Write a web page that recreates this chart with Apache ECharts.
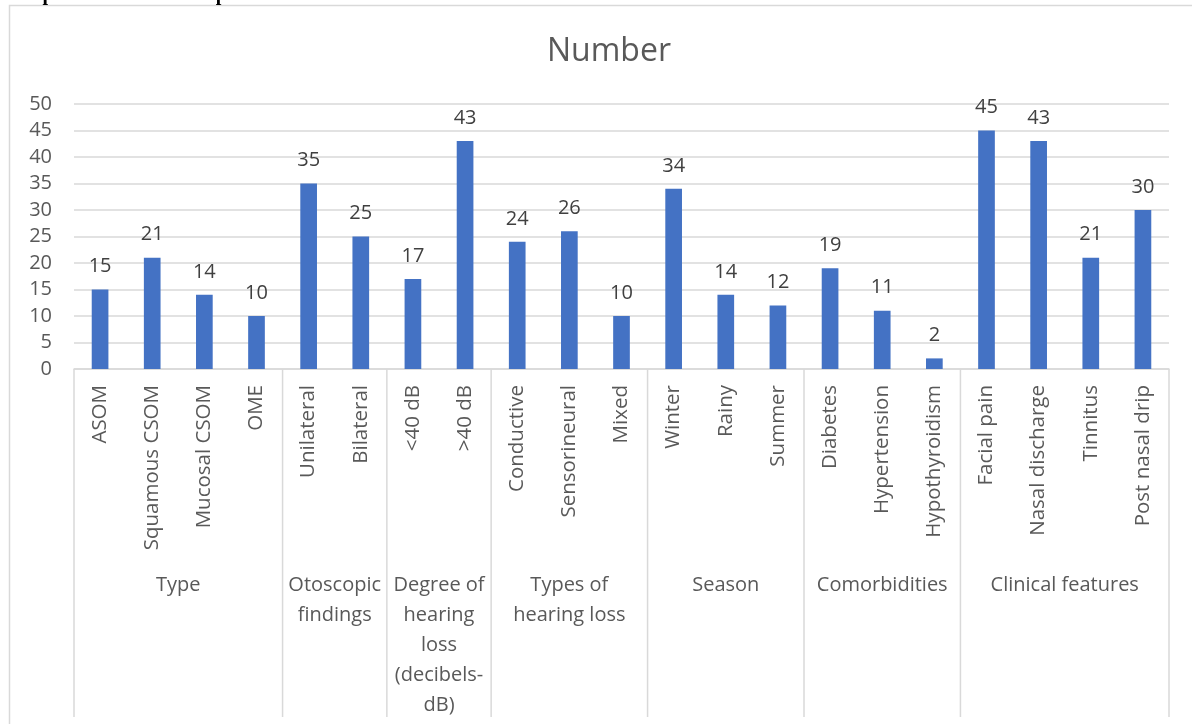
<!DOCTYPE html>
<html>
<head>
<meta charset="utf-8">
<script src="https://cdn.jsdelivr.net/npm/echarts@6/dist/echarts.min.js"></script>
<style>
html,body{margin:0;padding:0;background:#fff;}
#c{width:1192px;height:724px;}
</style>
</head>
<body>
<div id="c"></div>
<script>
const categories = ['ASOM','Squamous CSOM','Mucosal CSOM','OME','Unilateral','Bilateral','<40 dB','>40 dB','Conductive','Sensorineural','Mixed','Winter','Rainy','Summer','Diabetes','Hypertension','Hypothyroidism','Facial pain','Nasal discharge','Tinnitus','Post nasal drip'];
const values = [15,21,14,10,35,25,17,43,24,26,10,34,14,12,19,11,2,45,43,21,30];
const groupNames = ['Type','Otoscopic\nfindings','Degree of\nhearing\nloss\n(decibels-\ndB)','Types of\nhearing loss','Season','Comorbidities','Clinical features'];
const groupSizes = [4,2,2,3,3,3,4];
const yTicks = [0,5,10,15,20,25,30,35,40,45,50];
const titleText = 'Number';
const captionText = 'Graph 1: Assessment of parameters';

const FONT = '"Open Sans", sans-serif';
const groups = [];
let s = 0;
groupSizes.forEach((n, i) => { groups.push({ name: groupNames[i], start: s, end: s + n - 1 }); s += n; });

const chart = echarts.init(document.getElementById('c'));
chart.setOption({
  animation: false,
  backgroundColor: '#fff',
  title: {
    text: titleText, left: 604, top: 31, textAlign: 'center',
    textStyle: { fontFamily: FONT, fontSize: 32, fontWeight: 'normal', color: '#595959' }
  },
  graphic: [
    { type: 'rect', shape: { x: 9.5, y: 5.5, width: 1300, height: 800 }, style: { fill: null, stroke: '#d9d9d9', lineWidth: 1.5 }, z: -1, silent: true },
    { type: 'text', x: 8, y: 5, style: { text: captionText, font: 'bold 20px "Liberation Serif", serif', fill: '#000', verticalAlign: 'bottom' } }
  ],
  grid: { left: 74, right: 23, top: 104, bottom: 355, containLabel: false },
  xAxis: {
    type: 'category', data: categories,
    axisLine: { lineStyle: { color: '#d9d9d9', width: 1.5 } },
    axisTick: { show: false },
    axisLabel: { rotate: 90, margin: 16, interval: 0, fontFamily: FONT, fontSize: 20.5, color: '#595959' }
  },
  yAxis: {
    type: 'value', min: 0, max: 50, interval: 5,
    axisLine: { show: false }, axisTick: { show: false },
    axisLabel: { margin: 22, fontFamily: FONT, fontSize: 20, color: '#595959',
      formatter: v => yTicks.includes(v) ? String(v) : '' },
    splitLine: { lineStyle: { color: '#d9d9d9', width: 1.5 } }
  },
  series: [
    {
      type: 'bar', data: values, barWidth: '32%',
      itemStyle: { color: '#4472C4' },
      label: { show: true, position: 'top', distance: 13, fontFamily: FONT, fontSize: 20, color: '#404040' }
    },
    {
      type: 'custom', clip: false, silent: true,
      data: groups.map(g => [g.start, 0]),
      encode: { x: 0, y: 1 },
      renderItem: function (params, api) {
        const g = groups[params.dataIndex];
        const w = api.size([1, 0])[0];
        const p0 = api.coord([g.start, 0]);
        const p1 = api.coord([g.end, 0]);
        const left = p0[0] - w / 2;
        const right = p1[0] + w / 2;
        const y0 = p0[1];
        const children = [
          { type: 'line', shape: { x1: left, y1: y0, x2: left, y2: y0 + 348 }, style: { stroke: '#d9d9d9', lineWidth: 1.5 } },
          { type: 'text', style: { text: g.name, x: (left + right) / 2, y: y0 + 201, align: 'center', verticalAlign: 'top', font: '20px ' + FONT, lineHeight: 30, fill: '#595959' } }
        ];
        if (params.dataIndex === groups.length - 1) {
          children.push({ type: 'line', shape: { x1: right, y1: y0, x2: right, y2: y0 + 348 }, style: { stroke: '#d9d9d9', lineWidth: 1.5 } });
        }
        return { type: 'group', children: children };
      }
    }
  ]
});
</script>
</body>
</html>
